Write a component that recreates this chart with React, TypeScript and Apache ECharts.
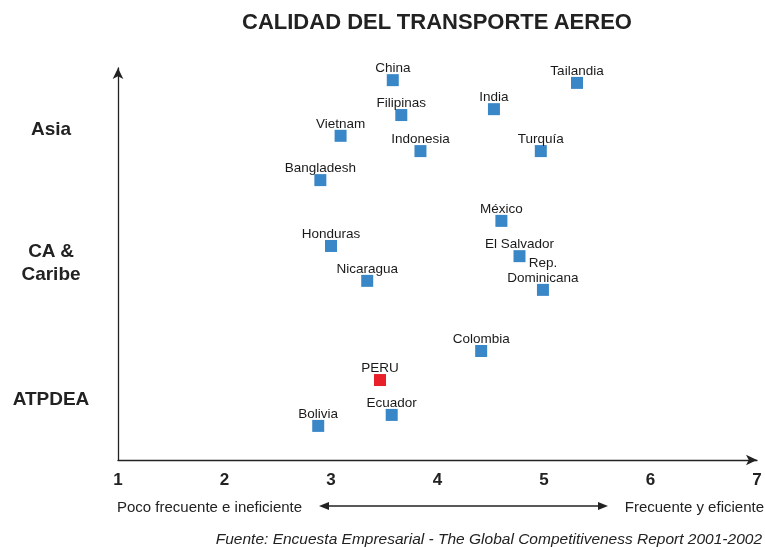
import React, { useEffect, useRef } from "react";
import * as echarts from "echarts";

const countries = [
  "China", "Tailandia", "India", "Filipinas", "Vietnam", "Indonesia", "Turquía", "Bangladesh",
  "México", "Honduras", "El Salvador", "Nicaragua", "Rep.\nDominicana",
  "Colombia", "PERU", "Ecuador", "Bolivia",
];
const xValues = [3.58, 5.31, 4.53, 3.66, 3.09, 3.84, 4.97, 2.9, 4.6, 3.0, 4.77, 3.34, 4.99, 4.41, 3.46, 3.57, 2.88];
const yValues = [96.9, 96.2, 89.5, 88, 82.7, 78.8, 78.8, 71.4, 61, 54.6, 52, 45.7, 43.4, 27.8, 20.4, 11.5, 8.7];
const highlighted = "PERU";
const xTicks = [1, 2, 3, 4, 5, 6, 7];
const groupLabels = ["Asia", "CA &\nCaribe", "ATPDEA"];

const FONT = "'Liberation Sans', Arial, Helvetica, sans-serif";

export default function App() {
  const ref = useRef<HTMLDivElement>(null);
  useEffect(() => {
    if (!ref.current) return;
    const chart = echarts.init(ref.current, undefined, { renderer: "svg" });
    const data = countries.map((name, i) => ({
      name,
      value: [xValues[i], yValues[i]],
      itemStyle: { color: name === highlighted ? "#e8202a" : "#3a87c8", opacity: 1 },
    }));
    chart.setOption({
      animation: false,
      textStyle: { fontFamily: FONT },
      grid: { left: 118, right: 8, top: 68, bottom: 87 },
      xAxis: {
        type: "value",
        min: xTicks[0],
        max: xTicks[xTicks.length - 1],
        interval: 1,
        splitLine: { show: false },
        axisTick: { show: false },
        axisLine: {
          onZero: false,
          symbol: ["none", "arrow"],
          symbolSize: [8, 11],
          lineStyle: { color: "#222", width: 1.3 },
        },
        axisLabel: {
          color: "#222",
          fontWeight: "bold",
          fontSize: 17,
          margin: 11,
          fontFamily: FONT,
          showMaxLabel: true,
          showMinLabel: true,
        },
      },
      yAxis: {
        type: "value",
        min: 0,
        max: 100,
        splitLine: { show: false },
        axisTick: { show: false },
        axisLabel: { show: false },
        axisLine: {
          onZero: false,
          symbol: ["none", "arrow"],
          symbolSize: [8, 11],
          lineStyle: { color: "#222", width: 1.3 },
        },
      },
      series: [
        {
          type: "scatter",
          symbol: "rect",
          symbolSize: 12,
          data,
          emphasis: { disabled: true },
          label: {
            show: true,
            position: "top",
            distance: -1,
            formatter: "{b}",
            color: "#1a1a1a",
            fontSize: 13.5,
            fontFamily: FONT,
            align: "center",
            lineHeight: 15,
          },
        },
      ],
      graphic: [
        {
          type: "text",
          x: 437,
          y: 21,
          style: {
            text: "CALIDAD DEL TRANSPORTE AEREO",
            fill: "#222",
            font: `bold 22px ${FONT}`,
            textAlign: "center",
            textVerticalAlign: "middle",
          },
        },
        {
          type: "text",
          x: 51,
          y: 128,
          style: { text: groupLabels[0], fill: "#222", font: `bold 19px ${FONT}`, textAlign: "center", textVerticalAlign: "middle" },
        },
        {
          type: "text",
          x: 51,
          y: 262,
          style: { text: groupLabels[1], fill: "#222", font: `bold 19px ${FONT}`, textAlign: "center", textVerticalAlign: "middle", lineHeight: 23 },
        },
        {
          type: "text",
          x: 51,
          y: 398,
          style: { text: groupLabels[2], fill: "#222", font: `bold 19px ${FONT}`, textAlign: "center", textVerticalAlign: "middle" },
        },
        {
          type: "text",
          x: 117,
          y: 506,
          style: { text: "Poco frecuente e ineficiente", fill: "#222", font: `15px ${FONT}`, textAlign: "left", textVerticalAlign: "middle" },
        },
        {
          type: "text",
          x: 764,
          y: 506,
          style: { text: "Frecuente y eficiente", fill: "#222", font: `15px ${FONT}`, textAlign: "right", textVerticalAlign: "middle" },
        },
        {
          type: "line",
          shape: { x1: 326, y1: 506, x2: 602, y2: 506 },
          style: { stroke: "#222", lineWidth: 1.3 },
        },
        {
          type: "polygon",
          shape: { points: [[319, 506], [329, 502], [329, 510]] },
          style: { fill: "#222" },
        },
        {
          type: "polygon",
          shape: { points: [[608, 506], [598, 502], [598, 510]] },
          style: { fill: "#222" },
        },
        {
          type: "text",
          x: 762,
          y: 538,
          style: {
            text: "Fuente: Encuesta Empresarial - The Global Competitiveness Report 2001-2002",
            fill: "#222",
            font: `italic 15.5px ${FONT}`,
            textAlign: "right",
            textVerticalAlign: "middle",
          },
        },
      ],
    });
    return () => chart.dispose();
  }, []);
  return <div ref={ref} style={{ position: "fixed", left: 0, top: 0, width: 765, height: 547 }} />;
}
